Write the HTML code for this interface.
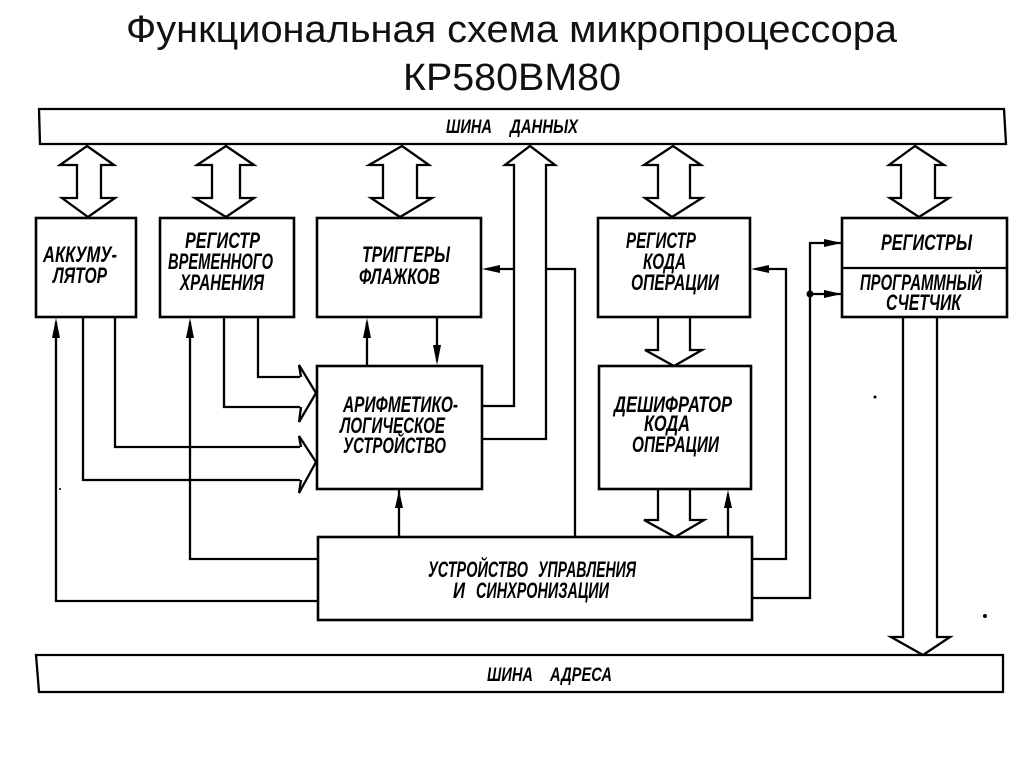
<!DOCTYPE html>
<html lang="ru">
<head>
<meta charset="utf-8">
<title>Функциональная схема микропроцессора КР580ВМ80</title>
<style>
html,body{margin:0;padding:0;background:#fff;width:1024px;height:767px;overflow:hidden}
svg{display:block;filter:blur(0.35px)}
.t{font-family:"Liberation Sans",sans-serif;font-size:38px;fill:#111}
.d{font-family:"Liberation Sans",sans-serif;font-style:italic;font-weight:bold;font-size:22px;fill:#000}
.s{font-size:19px}
.l{fill:none;stroke:#000;stroke-width:2.3;stroke-linejoin:miter}
.b{fill:#fff;stroke:#000;stroke-width:2.6}
.a{fill:#000;stroke:none}
</style>
</head>
<body>
<svg width="1024" height="767" viewBox="0 0 1024 767" xmlns="http://www.w3.org/2000/svg">
<text class="t" x="126" y="42" textLength="771" lengthAdjust="spacingAndGlyphs">Функциональная схема микропроцессора</text>
<text class="t" x="403" y="90" textLength="218" lengthAdjust="spacingAndGlyphs">КР580ВМ80</text>

<!-- buses -->
<path class="l" d="M39 109H1004L1006 144H40Z"/>
<path class="l" d="M36 655H1003L1003 692H39Z"/>

<!-- connectors -->
<path class="l" d="M56 322V601H318"/>
<path class="l" d="M83 317V480H300"/>
<path class="l" d="M115 317V447H300"/>
<path class="l" d="M190 322V559H318"/>
<path class="l" d="M224 317V407H300"/>
<path class="l" d="M258 317V377H300"/>
<path class="l" d="M367 322V366"/>
<path class="l" d="M437 317V361"/>
<path class="l" d="M399 489V537"/>
<path class="l" d="M728 494V537"/>
<path class="l" d="M482 406H514V165H505L530 146L555 165H546V439H482"/>
<path class="l" d="M546 269H575V537"/>
<path class="l" d="M514 269H487"/>
<path class="l" d="M756 269H786V559H752"/>
<path class="l" d="M842 243H810V598H752"/>
<path class="l" d="M810 294H842"/>
<circle class="a" cx="810" cy="294" r="3.5"/>

<!-- hollow side arrows to ALU -->
<path class="l" d="M301 377L299 365L316 393L299 422L301 407"/>
<path class="l" d="M301 447L299 436L316 462L299 493L301 480"/>

<!-- double arrows -->
<path class="l" d="M87 146L114 165H101V198H115L88 217L62 198H77V165H60Z"/>
<path class="l" d="M226 146L254 165H240V198H254L226 217L195 198H212V165H197Z"/>
<path class="l" d="M402 146L429 165H417V198H432L400 217L371 198H383V165H369Z"/>
<path class="l" d="M673 146L701 165H690V198H702L672 217L645 198H658V165H644Z"/>
<path class="l" d="M915 146L944 165H935V198H949L919 217L890 198H901V165H889Z"/>

<!-- single hollow arrows -->
<path class="l" d="M658 317V350H645L674 366L702 350H690V317"/>
<path class="l" d="M658 489V520H644L675 537L704 520H690V489"/>
<path class="l" d="M903 317V637H891L923 655L950 637H937V317"/>

<!-- filled arrowheads -->
<path class="a" d="M56 318L60 338H52Z"/>
<path class="a" d="M190 318L194 338H186Z"/>
<path class="a" d="M367 318L371 338H363Z"/>
<path class="a" d="M437 365L433 345H441Z"/>
<path class="a" d="M399 490L403 508H395Z"/>
<path class="a" d="M728 490L732 508H724Z"/>
<path class="a" d="M482 269L500 265V273Z"/>
<path class="a" d="M751 269L769 265V273Z"/>
<path class="a" d="M842 243L824 239V247Z"/>
<path class="a" d="M842 294L824 290V298Z"/>

<!-- boxes -->
<rect class="b" x="36" y="218" width="100" height="99"/>
<rect class="b" x="160" y="218" width="134" height="99"/>
<rect class="b" x="317" y="218" width="164" height="99"/>
<rect class="b" x="317" y="366" width="165" height="123"/>
<rect class="b" x="598" y="218" width="152" height="99"/>
<rect class="b" x="599" y="366" width="152" height="123"/>
<rect class="b" x="842" y="218" width="165" height="99"/>
<path class="l" d="M842 268H1007"/>
<rect class="b" x="318" y="537" width="434" height="83"/>

<!-- labels -->
<text class="d s" x="446" y="133" textLength="46" lengthAdjust="spacingAndGlyphs">ШИНА</text>
<text class="d s" x="510" y="133" textLength="68" lengthAdjust="spacingAndGlyphs">ДАННЫХ</text>
<text class="d s" x="487" y="681" textLength="46" lengthAdjust="spacingAndGlyphs">ШИНА</text>
<text class="d s" x="550" y="681" textLength="62" lengthAdjust="spacingAndGlyphs">АДРЕСА</text>

<text class="d" x="43" y="262" textLength="74" lengthAdjust="spacingAndGlyphs">АККУМУ-</text>
<text class="d" x="53" y="283" textLength="54" lengthAdjust="spacingAndGlyphs">ЛЯТОР</text>

<text class="d" x="185" y="248" textLength="75" lengthAdjust="spacingAndGlyphs">РЕГИСТР</text>
<text class="d" x="168" y="269" textLength="105" lengthAdjust="spacingAndGlyphs">ВРЕМЕННОГО</text>
<text class="d" x="180" y="290" textLength="84" lengthAdjust="spacingAndGlyphs">ХРАНЕНИЯ</text>

<text class="d" x="362" y="262" textLength="88" lengthAdjust="spacingAndGlyphs">ТРИГГЕРЫ</text>
<text class="d" x="359" y="284" textLength="81" lengthAdjust="spacingAndGlyphs">ФЛАЖКОВ</text>

<text class="d" x="626" y="248" textLength="70" lengthAdjust="spacingAndGlyphs">РЕГИСТР</text>
<text class="d" x="643" y="269" textLength="43" lengthAdjust="spacingAndGlyphs">КОДА</text>
<text class="d" x="631" y="290" textLength="88" lengthAdjust="spacingAndGlyphs">ОПЕРАЦИИ</text>

<text class="d" x="881" y="250" textLength="91" lengthAdjust="spacingAndGlyphs">РЕГИСТРЫ</text>
<text class="d" x="860" y="290" textLength="122" lengthAdjust="spacingAndGlyphs">ПРОГРАММНЫЙ</text>
<text class="d" x="886" y="310" textLength="75" lengthAdjust="spacingAndGlyphs">СЧЕТЧИК</text>

<text class="d" x="343" y="412" textLength="115" lengthAdjust="spacingAndGlyphs">АРИФМЕТИКО-</text>
<text class="d" x="340" y="433" textLength="105" lengthAdjust="spacingAndGlyphs">ЛОГИЧЕСКОЕ</text>
<text class="d" x="343" y="453" textLength="103" lengthAdjust="spacingAndGlyphs">УСТРОЙСТВО</text>

<text class="d" x="614" y="412" textLength="118" lengthAdjust="spacingAndGlyphs">ДЕШИФРАТОР</text>
<text class="d" x="644" y="431" textLength="46" lengthAdjust="spacingAndGlyphs">КОДА</text>
<text class="d" x="632" y="452" textLength="87" lengthAdjust="spacingAndGlyphs">ОПЕРАЦИИ</text>

<text class="d" x="428" y="577" textLength="100" lengthAdjust="spacingAndGlyphs">УСТРОЙСТВО</text>
<text class="d" x="538" y="577" textLength="98" lengthAdjust="spacingAndGlyphs">УПРАВЛЕНИЯ</text>
<text class="d" x="453" y="598" textLength="12" lengthAdjust="spacingAndGlyphs">И</text>
<text class="d" x="476" y="598" textLength="133" lengthAdjust="spacingAndGlyphs">СИНХРОНИЗАЦИИ</text>

<!-- specks -->
<circle class="a" cx="875" cy="397" r="1.5"/>
<circle class="a" cx="985" cy="616" r="2"/>
<circle class="a" cx="60" cy="489" r="1"/>
</svg>
</body>
</html>
